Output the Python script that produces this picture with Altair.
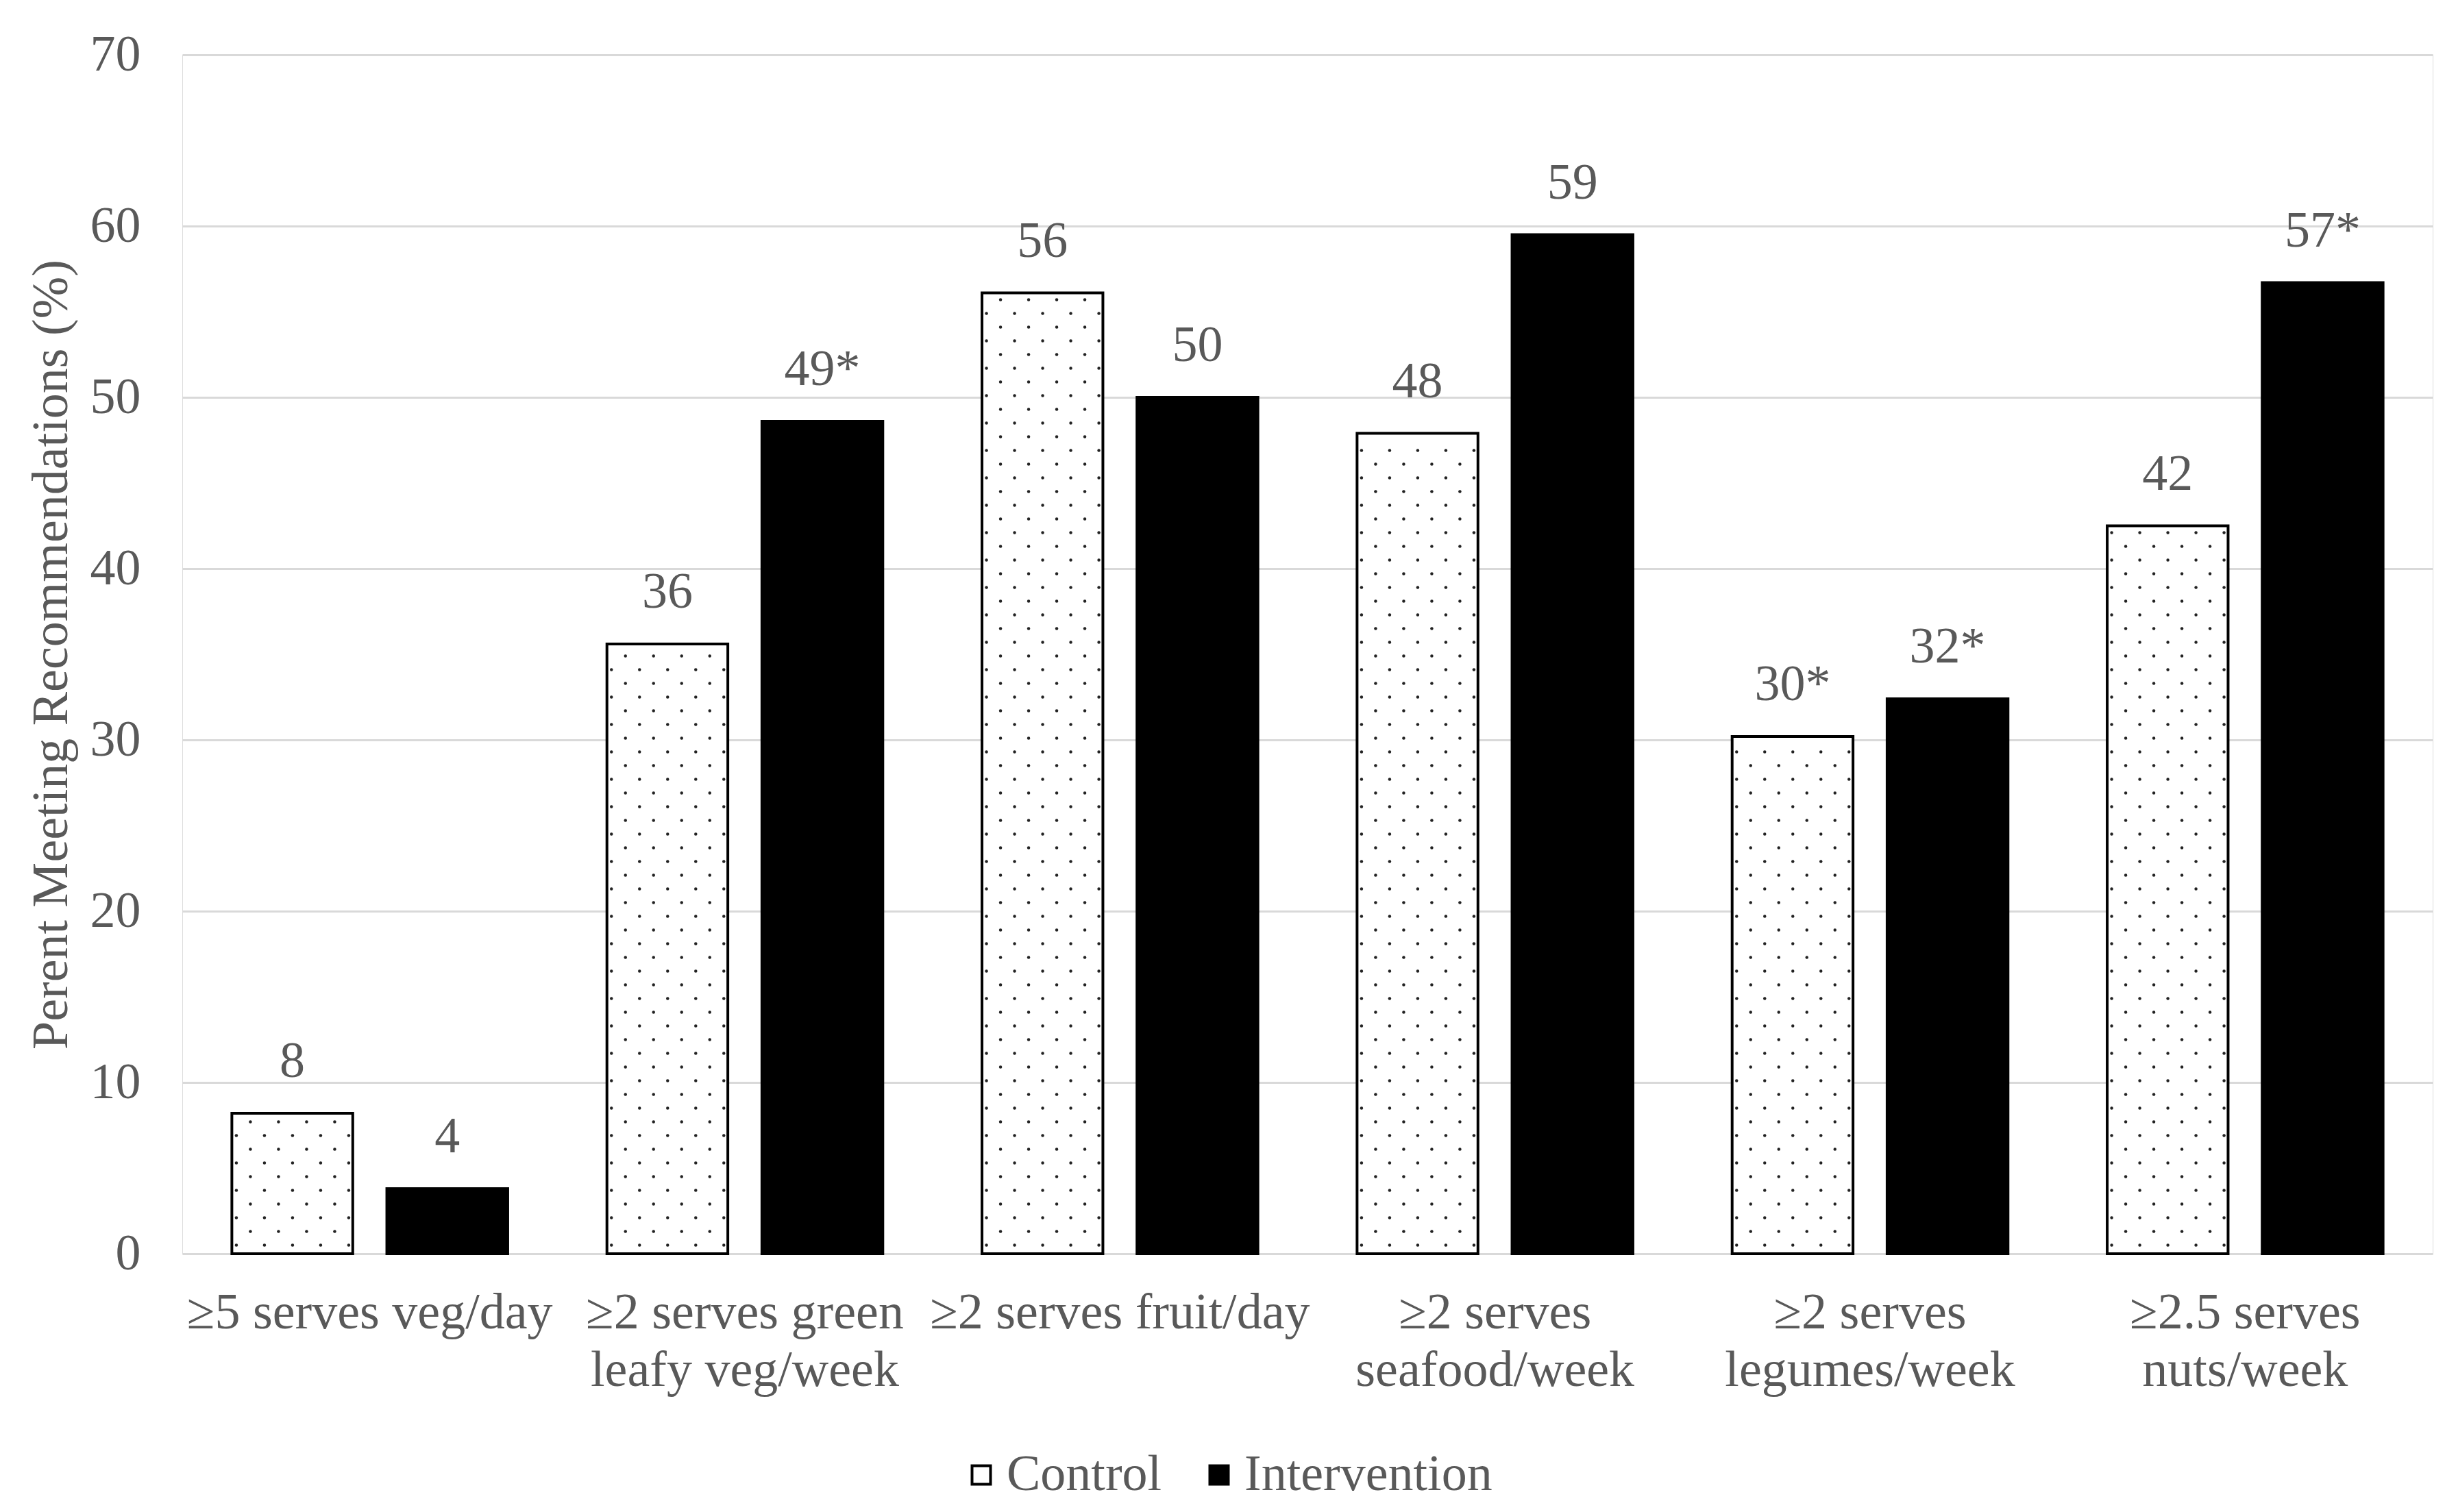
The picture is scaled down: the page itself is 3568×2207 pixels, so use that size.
import altair as alt
import pandas as pd

categories = ["≥5 serves veg/day", "≥2 serves green|leafy veg/week", "≥2 serves fruit/day",
              "≥2 serves|seafood/week", "≥2 serves|legumes/week", "≥2.5 serves|nuts/week"]
control = [8.2, 35.6, 56.1, 47.9, 30.2, 42.5]
intervention = [3.8, 48.6, 50.0, 59.5, 32.4, 56.7]
control_labels = ["8", "36", "56", "48", "30*", "42"]
intervention_labels = ["4", "49*", "50", "59", "32*", "57*"]
groups = ["Control", "Intervention"]

rows = []
for i, c in enumerate(categories):
    rows.append({"category": c, "group": "Control", "value": control[i], "label": control_labels[i]})
    rows.append({"category": c, "group": "Intervention", "value": intervention[i], "label": intervention_labels[i]})
df = pd.DataFrame(rows)

# dotted fill pattern for the Control bars, derived from the control values
dots = []
for i, c in enumerate(categories):
    j = 0
    while 0.5 + 0.8 * j < control[i] - 0.35:
        for k in range(9):
            if (k + j) % 2 == 0:
                dots.append({"category": c, "col": k + 3, "dy": 0.5 + 0.8 * j})
        j += 1
dots_df = pd.DataFrame(dots)

FONT = "Liberation Serif"
GREY = "#595959"
W, H = 3284, 1750

x_enc = alt.X("category:N", sort=categories, title=None,
              scale=alt.Scale(paddingInner=0, paddingOuter=0),
              axis=alt.Axis(labelExpr="split(datum.label, '|')", labelAngle=0,
                            labelFontSize=74, labelFont=FONT, labelColor=GREY,
                            labelLineHeight=84, labelPadding=50, domain=False,
                            ticks=False, grid=False, labelLimit=1000))
y_enc = alt.Y("value:Q", title="Perent Meeting Recommendations (%)",
              scale=alt.Scale(domain=[0, 70], nice=False),
              axis=alt.Axis(values=list(range(0, 71, 10)), labelFontSize=74, labelFont=FONT,
                            labelColor=GREY, labelPadding=61, domain=False, ticks=False,
                            gridColor="#d9d9d9", gridWidth=3, titleFontSize=74,
                            titleFont=FONT, titleColor=GREY, titleFontWeight="normal",
                            titlePadding=18))


def xoff_scale():
    return alt.Scale(type="band", domain=groups, paddingInner=0.22, paddingOuter=0.32)


bars = alt.Chart(df).mark_bar(stroke="black", strokeWidth=4).encode(
    x=x_enc,
    y=y_enc,
    xOffset=alt.XOffset("group:N", scale=xoff_scale()),
    fill=alt.Fill("group:N", scale=alt.Scale(domain=groups, range=["white", "black"]),
                  legend=alt.Legend(title=None, orient="none", direction="horizontal",
                                    legendX=1129, legendY=2036, symbolType="square",
                                    symbolSize=729, symbolStrokeColor="black",
                                    symbolStrokeWidth=4, labelFontSize=74, labelFont=FONT,
                                    labelColor=GREY, labelOffset=0, columnPadding=46,
                                    labelLimit=1000)),
)

dots_layer = alt.Chart(dots_df).mark_circle(size=20, color="#222222", opacity=1).encode(
    x=alt.X("category:N", sort=categories),
    y=alt.Y("dy:Q"),
    xOffset=alt.XOffset("col:O", scale=alt.Scale(type="band", domain=list(range(26)),
                                                  paddingInner=0, paddingOuter=0.35)),
)

labels = alt.Chart(df).mark_text(font=FONT, fontSize=74, color=GREY, baseline="alphabetic",
                                  dy=-53).encode(
    x=alt.X("category:N", sort=categories),
    y=alt.Y("value:Q"),
    xOffset=alt.XOffset("group:N", scale=xoff_scale()),
    text="label:N",
)

chart = alt.layer(bars, dots_layer, labels).resolve_scale(xOffset="independent").properties(
    width=W, height=H,
    autosize=alt.AutoSizeParams(type="none"),
    padding={"left": 258, "top": 72, "right": 10, "bottom": 369},
).configure_view(stroke=None).configure(background="white")

chart.save("out.html", embed_options={"renderer": "svg", "actions": False})
